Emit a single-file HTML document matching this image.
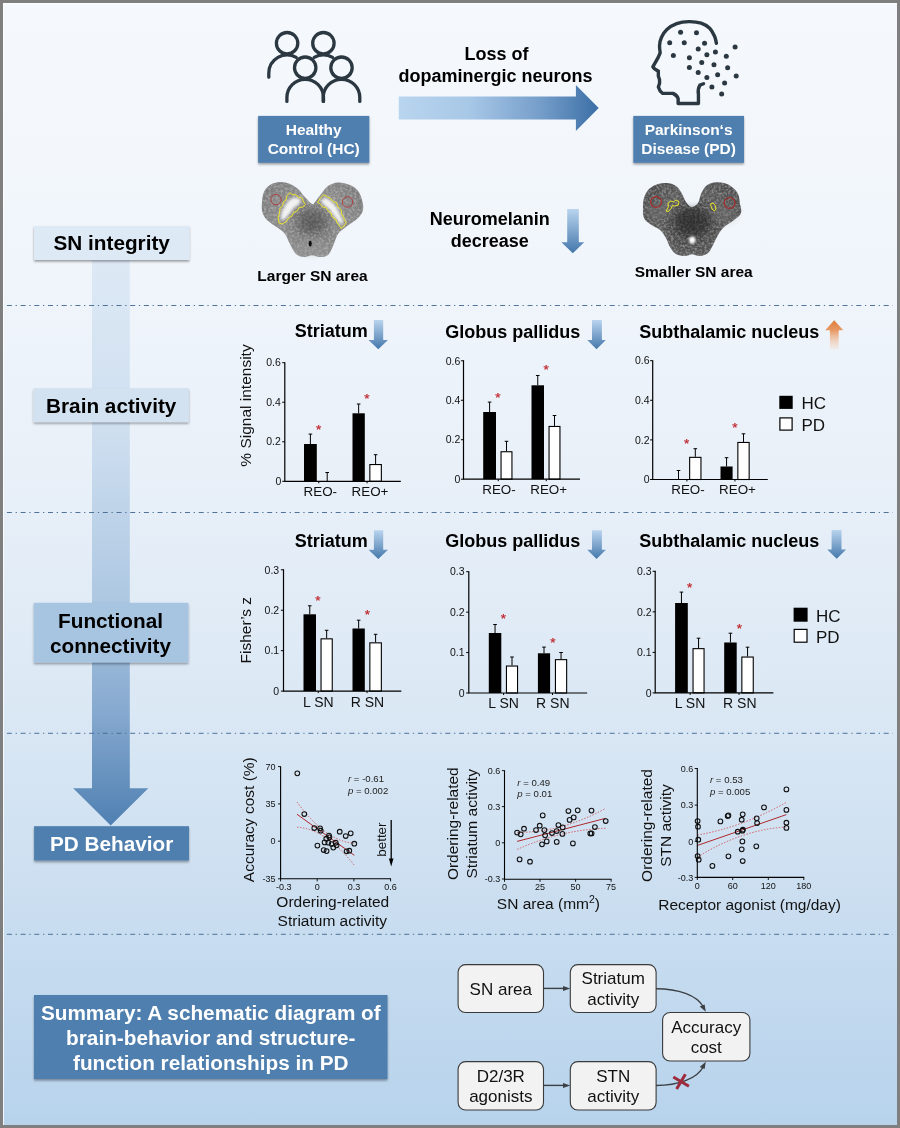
<!DOCTYPE html>
<html lang="en"><head><meta charset="utf-8"><title>Graphical abstract</title>
<style>
html,body{margin:0;padding:0;background:#7f7f7f;}
svg{display:block;will-change:transform;}
text{font-family:"Liberation Sans",Arial,Helvetica,sans-serif;}
</style></head><body>
<svg width="900" height="1128" viewBox="0 0 900 1128">
<defs>
<linearGradient id="gBg" x1="0" y1="0" x2="0" y2="1">
<stop offset="0" stop-color="#f5f9fd"/>
<stop offset="0.25" stop-color="#f0f5fb"/>
<stop offset="0.45" stop-color="#e7eff8"/>
<stop offset="0.65" stop-color="#d9e7f4"/>
<stop offset="0.82" stop-color="#c9ddf0"/>
<stop offset="1" stop-color="#b7d3ec"/>
</linearGradient>
<linearGradient id="gStem" gradientUnits="userSpaceOnUse" x1="0" y1="258" x2="0" y2="826">
<stop offset="0" stop-color="#dde9f5"/>
<stop offset="0.3" stop-color="#cfdff0"/>
<stop offset="0.6" stop-color="#aec8e2"/>
<stop offset="0.8" stop-color="#86a9cf"/>
<stop offset="1" stop-color="#4f80b2"/>
</linearGradient>
<linearGradient id="gArrowH" gradientUnits="userSpaceOnUse" x1="398" y1="0" x2="599" y2="0">
<stop offset="0" stop-color="#b9d5ef"/>
<stop offset="0.35" stop-color="#a8c8e7"/>
<stop offset="0.7" stop-color="#779fcb"/>
<stop offset="1" stop-color="#3b6fa6"/>
</linearGradient>
<filter id="sh" x="-0.1" y="-0.2" width="1.2" height="1.5"><feDropShadow dx="0" dy="1.6" stdDeviation="1.3" flood-color="#000" flood-opacity="0.38"/></filter>

<radialGradient id="gBrainHC" gradientUnits="userSpaceOnUse" cx="312" cy="225" r="58"><stop offset="0" stop-color="#6a6a6a"/><stop offset="0.55" stop-color="#8c8c8c"/><stop offset="1" stop-color="#7a7a7a"/></radialGradient>
<radialGradient id="gBrainPD" gradientUnits="userSpaceOnUse" cx="692" cy="225" r="58"><stop offset="0" stop-color="#3a3a3a"/><stop offset="0.6" stop-color="#5a5a5a"/><stop offset="1" stop-color="#4a4a4a"/></radialGradient>
<filter id="noiseHC" x="0" y="0" width="1" height="1"><feTurbulence type="fractalNoise" baseFrequency="0.42" numOctaves="3" seed="3" result="n"/><feColorMatrix in="n" type="matrix" values="0 0 0 0 0.5  0 0 0 0 0.5  0 0 0 0 0.5  2.6 0 0 0 -1.0"/><feComposite in2="SourceGraphic" operator="in"/></filter>
<filter id="noisePD" x="0" y="0" width="1" height="1"><feTurbulence type="fractalNoise" baseFrequency="0.42" numOctaves="3" seed="8" result="n"/><feColorMatrix in="n" type="matrix" values="0 0 0 0 0.6  0 0 0 0 0.6  0 0 0 0 0.6  2.6 0 0 0 -1.0"/><feComposite in2="SourceGraphic" operator="in"/></filter>
<filter id="blur06" x="-0.1" y="-0.1" width="1.2" height="1.2"><feGaussianBlur stdDeviation="0.5"/></filter>
<filter id="blur1" x="-0.3" y="-0.3" width="1.6" height="1.6"><feGaussianBlur stdDeviation="1"/></filter>
<filter id="blur15" x="-0.3" y="-0.3" width="1.6" height="1.6"><feGaussianBlur stdDeviation="1.6"/></filter>
<filter id="blur3" x="-0.5" y="-0.5" width="2" height="2"><feGaussianBlur stdDeviation="3.5"/></filter>
<linearGradient id="gDn1" gradientUnits="userSpaceOnUse" x1="0" y1="209.1" x2="0" y2="253.2"><stop offset="0" stop-color="#b9d4ee"/><stop offset="1" stop-color="#4477ab"/></linearGradient>
<linearGradient id="gDn2" gradientUnits="userSpaceOnUse" x1="0" y1="320" x2="0" y2="349.3"><stop offset="0" stop-color="#b9d4ee"/><stop offset="1" stop-color="#4477ab"/></linearGradient>
<linearGradient id="gDn3" gradientUnits="userSpaceOnUse" x1="0" y1="320" x2="0" y2="349.3"><stop offset="0" stop-color="#b9d4ee"/><stop offset="1" stop-color="#4477ab"/></linearGradient>
<linearGradient id="gUp" gradientUnits="userSpaceOnUse" x1="0" y1="320" x2="0" y2="350"><stop offset="0" stop-color="#dd7a3a"/><stop offset="0.35" stop-color="#e89a66"/><stop offset="1" stop-color="#f6d9c6" stop-opacity="0.25"/></linearGradient>
<linearGradient id="gDn4" gradientUnits="userSpaceOnUse" x1="0" y1="530.3" x2="0" y2="559.1"><stop offset="0" stop-color="#b9d4ee"/><stop offset="1" stop-color="#4477ab"/></linearGradient>
<linearGradient id="gDn5" gradientUnits="userSpaceOnUse" x1="0" y1="530.3" x2="0" y2="559.1"><stop offset="0" stop-color="#b9d4ee"/><stop offset="1" stop-color="#4477ab"/></linearGradient>
<linearGradient id="gDn6" gradientUnits="userSpaceOnUse" x1="0" y1="529.9" x2="0" y2="558.8"><stop offset="0" stop-color="#b9d4ee"/><stop offset="1" stop-color="#4477ab"/></linearGradient></defs>
<rect x="0" y="0" width="900" height="1128" fill="#7f7f7f"/>
<rect x="3" y="3" width="894" height="1122" fill="url(#gBg)"/>
<path d="M3.5,1125V3.5H897" fill="none" stroke="#fff" stroke-width="1" opacity="0.8"/>
<path d="M92,258H129.8V788.2H148.3L110.7,825.6L73.2,788.2H92Z" fill="url(#gStem)"/>
<path d="M6.9,305.5H892.7" stroke="#486c94" stroke-width="0.95" stroke-dasharray="5 3.7 1.3 3.7" fill="none"/>
<path d="M6.9,512.5H892.7" stroke="#486c94" stroke-width="0.95" stroke-dasharray="5 3.7 1.3 3.7" fill="none"/>
<path d="M6.9,733.3H892.7" stroke="#486c94" stroke-width="0.95" stroke-dasharray="5 3.7 1.3 3.7" fill="none"/>
<path d="M6.9,934.3H892.7" stroke="#486c94" stroke-width="0.95" stroke-dasharray="5 3.7 1.3 3.7" fill="none"/>
<rect x="34.1" y="225.9" width="155.2" height="34.1" fill="#dde9f5" filter="url(#sh)"/>
<text x="111.7" y="250.4" text-anchor="middle" font-size="20.75" font-weight="bold" fill="#000">SN integrity</text>
<rect x="33.6" y="388.3" width="155.2" height="33.8" fill="#d3e2f1" filter="url(#sh)"/>
<text x="111.2" y="412.8" text-anchor="middle" font-size="20.75" font-weight="bold" fill="#000">Brain activity</text>
<rect x="33.8" y="602.8" width="154.6" height="59.7" fill="#a7c4e1" filter="url(#sh)"/>
<text x="110.5" y="627.6" text-anchor="middle" font-size="20.75" font-weight="bold" fill="#000">Functional</text>
<text x="110.5" y="652.6" text-anchor="middle" font-size="20.75" font-weight="bold" fill="#000">connectivity</text>
<rect x="34.1" y="826.2" width="154.9" height="34.3" fill="#4f7fae" filter="url(#sh)"/>
<text x="111.6" y="850.9" text-anchor="middle" font-size="20.75" font-weight="bold" fill="#fff">PD Behavior</text>
<g fill="none" stroke="#2b3842" stroke-width="3.3" stroke-linecap="round" stroke-linejoin="round">
<circle cx="287.1" cy="43.2" r="10.7"/>
<circle cx="323.4" cy="43.2" r="10.7"/>
<circle cx="305.2" cy="67.7" r="10.7"/>
<circle cx="341.5" cy="67.7" r="10.7"/>
<path d="M286.9,101.4V97.6A18.3,18.3 0 0 1 323.5,97.6V101.4"/>
<path d="M323.2,101.4V97.6A18.3,18.3 0 0 1 359.8,97.6V101.4"/>
<path d="M268.8,77.2V73.2A18.3,18.3 0 0 1 296.2,57.4"/>
<path d="M314.2,57.4A18.3,18.3 0 0 1 332.6,57.4"/>
</g>
<rect x="258.1" y="115.9" width="111.2" height="46.9" fill="#4f7fae" filter="url(#sh)"/>
<text x="313.7" y="135.3" text-anchor="middle" font-size="15.5" font-weight="bold" fill="#fff">Healthy</text>
<text x="313.7" y="154" text-anchor="middle" font-size="15.5" font-weight="bold" fill="#fff">Control (HC)</text>
<path d="M716.41,43.25C716.1,42.09 715.69,38.77 714.57,36.28C713.45,33.8 711.92,30.52 709.68,28.34C707.44,26.16 704.59,24.32 701.12,23.2C697.66,22.08 692.97,21.53 688.9,21.61C684.82,21.7 680.34,22.37 676.67,23.69C673.01,25.02 669.44,27.26 666.89,29.56C664.35,31.86 662.62,34.86 661.39,37.51C660.17,40.15 659.76,42.91 659.56,45.45C659.36,48 660.07,51.56 660.17,52.79L658.34,57.07L652.84,66.85Q654.06,69.29 658.34,71.12L658.34,76.01L659.56,79.68L659.56,83.35L658.34,87.02Q659.56,91.3 662.62,93.37L673.01,93.37Q677.29,95.57 678.14,98.63L678.14,103.52L698.44,103.52L698.44,94.35Q697.46,89.46 699.9,85.18L703.57,83.72" fill="none" stroke="#2b3842" stroke-width="3.4" stroke-linecap="round" stroke-linejoin="round"/>
<circle cx="680.59" cy="32.25" r="2.5" fill="#2b3842"/>
<circle cx="696.48" cy="32.86" r="2.5" fill="#2b3842"/>
<circle cx="669.71" cy="42.76" r="2.5" fill="#2b3842"/>
<circle cx="684.25" cy="42.76" r="2.5" fill="#2b3842"/>
<circle cx="704.55" cy="43.25" r="2.5" fill="#2b3842"/>
<circle cx="735.11" cy="46.92" r="2.5" fill="#2b3842"/>
<circle cx="698.19" cy="49.12" r="2.5" fill="#2b3842"/>
<circle cx="715.43" cy="51.93" r="2.5" fill="#2b3842"/>
<circle cx="706.87" cy="54.87" r="2.5" fill="#2b3842"/>
<circle cx="673.37" cy="55.48" r="2.5" fill="#2b3842"/>
<circle cx="726.31" cy="56.21" r="2.5" fill="#2b3842"/>
<circle cx="689.39" cy="57.68" r="2.5" fill="#2b3842"/>
<circle cx="701.74" cy="62.57" r="2.5" fill="#2b3842"/>
<circle cx="713.96" cy="64.77" r="2.5" fill="#2b3842"/>
<circle cx="689.39" cy="67.46" r="2.5" fill="#2b3842"/>
<circle cx="727.65" cy="67.7" r="2.5" fill="#2b3842"/>
<circle cx="698.19" cy="72.59" r="2.5" fill="#2b3842"/>
<circle cx="717.63" cy="74.79" r="2.5" fill="#2b3842"/>
<circle cx="736.21" cy="76.01" r="2.5" fill="#2b3842"/>
<circle cx="706.87" cy="77.6" r="2.5" fill="#2b3842"/>
<circle cx="724.6" cy="82.98" r="2.5" fill="#2b3842"/>
<circle cx="711.88" cy="87.02" r="2.5" fill="#2b3842"/>
<circle cx="721.66" cy="93.99" r="2.5" fill="#2b3842"/>
<rect x="633.3" y="115.9" width="110.7" height="46.9" fill="#4f7fae" filter="url(#sh)"/>
<text x="688.6" y="135.3" text-anchor="middle" font-size="15.5" font-weight="bold" fill="#fff">Parkinson‘s</text>
<text x="688.6" y="154" text-anchor="middle" font-size="15.5" font-weight="bold" fill="#fff">Disease (PD)</text>
<path d="M398.8,96.4H575.9V84.9L598.7,108L575.9,131.1V119.6H398.8Z" fill="url(#gArrowH)"/>
<text x="496.5" y="59.8" text-anchor="middle" font-size="18" font-weight="bold" fill="#000">Loss of</text>
<text x="495.5" y="82" text-anchor="middle" font-size="18" font-weight="bold" fill="#000">dopaminergic neurons</text>
<text x="489.8" y="224.6" text-anchor="middle" font-size="18" font-weight="bold" fill="#000">Neuromelanin</text>
<text x="489.8" y="246.6" text-anchor="middle" font-size="18" font-weight="bold" fill="#000">decrease</text>
<path d="M567.2,209.1H578.8V242.3H584.2L572.8,253.2L561.4,242.3H567.2Z" fill="url(#gDn1)"/>
<text x="312.5" y="281" text-anchor="middle" font-size="15.5" font-weight="bold" fill="#000">Larger SN area</text>
<text x="693.7" y="277" text-anchor="middle" font-size="15.5" font-weight="bold" fill="#000">Smaller SN area</text>
<g filter="url(#blur06)">
<path d="M312,204C310.17,203 306.33,198.5 304,196C301.67,193.5 300.33,191 298,189C295.67,187 293,185.17 290,184C287,182.83 283.33,181.83 280,182C276.67,182.17 272.67,183.33 270,185C267.33,186.67 265.33,189.17 264,192C262.67,194.83 262.27,198.67 262,202C261.73,205.33 261.57,209 262.4,212C263.23,215 264.4,217.33 267,220C269.6,222.67 275,225.67 278,228C281,230.33 283,231.33 285,234C287,236.67 288.17,240.67 290,244C291.83,247.33 293.67,251.83 296,254C298.33,256.17 301.33,256.8 304,257C306.67,257.2 309.33,255.2 312,255.2C314.67,255.2 317.33,257.03 320,257C322.67,256.97 325.83,256.83 328,255C330.17,253.17 331.33,249.5 333,246C334.67,242.5 335.83,237.17 338,234C340.17,230.83 342.67,229.67 346,227C349.33,224.33 355.17,220.83 358,218C360.83,215.17 362.33,213 363,210C363.67,207 362.83,203.17 362,200C361.17,196.83 360,193.5 358,191C356,188.5 353.33,186.43 350,185C346.67,183.57 341.67,182.23 338,182.4C334.33,182.57 330.83,184.07 328,186C325.17,187.93 323.17,191.33 321,194C318.83,196.67 316.5,200.33 315,202C313.5,203.67 313.83,205 312,204Z" fill="url(#gBrainHC)"/>
<path d="M312,204C310.17,203 306.33,198.5 304,196C301.67,193.5 300.33,191 298,189C295.67,187 293,185.17 290,184C287,182.83 283.33,181.83 280,182C276.67,182.17 272.67,183.33 270,185C267.33,186.67 265.33,189.17 264,192C262.67,194.83 262.27,198.67 262,202C261.73,205.33 261.57,209 262.4,212C263.23,215 264.4,217.33 267,220C269.6,222.67 275,225.67 278,228C281,230.33 283,231.33 285,234C287,236.67 288.17,240.67 290,244C291.83,247.33 293.67,251.83 296,254C298.33,256.17 301.33,256.8 304,257C306.67,257.2 309.33,255.2 312,255.2C314.67,255.2 317.33,257.03 320,257C322.67,256.97 325.83,256.83 328,255C330.17,253.17 331.33,249.5 333,246C334.67,242.5 335.83,237.17 338,234C340.17,230.83 342.67,229.67 346,227C349.33,224.33 355.17,220.83 358,218C360.83,215.17 362.33,213 363,210C363.67,207 362.83,203.17 362,200C361.17,196.83 360,193.5 358,191C356,188.5 353.33,186.43 350,185C346.67,183.57 341.67,182.23 338,182.4C334.33,182.57 330.83,184.07 328,186C325.17,187.93 323.17,191.33 321,194C318.83,196.67 316.5,200.33 315,202C313.5,203.67 313.83,205 312,204Z" fill="#000" filter="url(#noiseHC)" opacity="0.6"/>
<ellipse cx="312" cy="221" rx="15" ry="12" fill="#3c3c3c" opacity="0.4" filter="url(#blur3)"/>
<ellipse cx="311" cy="246" rx="14" ry="8" fill="#9a9a9a" opacity="0.5" filter="url(#blur3)"/>
<path d="M281.2,220.4C280.43,219.67 280.87,215.9 281.4,213.6C281.93,211.3 283.07,208.87 284.4,206.6C285.73,204.33 287.53,201.5 289.4,200C291.27,198.5 293.77,197.67 295.6,197.6C297.43,197.53 299.73,198.6 300.4,199.6C301.07,200.6 300.6,202.27 299.6,203.6C298.6,204.93 295.93,206.07 294.4,207.6C292.87,209.13 291.8,211.07 290.4,212.8C289,214.53 287.53,216.73 286,218C284.47,219.27 281.97,221.13 281.2,220.4Z" fill="#f2f2f2" filter="url(#blur15)"/>
<path d="M321,200.4C321.33,199.2 324.17,197.73 326,198C327.83,198.27 330.17,200.33 332,202C333.83,203.67 335.6,205.83 337,208C338.4,210.17 339.37,212.83 340.4,215C341.43,217.17 343.07,219.43 343.2,221C343.33,222.57 342.2,224.57 341.2,224.4C340.2,224.23 338.57,221.57 337.2,220C335.83,218.43 334.37,216.8 333,215C331.63,213.2 330.5,210.83 329,209.2C327.5,207.57 325.33,206.67 324,205.2C322.67,203.73 320.67,201.6 321,200.4Z" fill="#f2f2f2" filter="url(#blur15)"/>
<ellipse cx="310.2" cy="243.6" rx="1.6" ry="2.8" fill="#111"/>
</g>
<path d="M279,223L278,217L279.6,213L280,208L282.4,206L283.6,201.6L286,200L287,195.6L290,192.6L292.4,195L295.6,194.4L298,197L302,198L303.6,202L305.4,204.4L303,207L299,207.6L297,211L293.6,212.6L292,216L288.4,218L287,221L282.4,224Z" fill="none" stroke="#ece52a" stroke-width="1" stroke-linejoin="round"/>
<path d="M317.6,202.4L320.4,198L324,194.6L327.6,197L330.6,198.4L333,201.6L336.4,202.6L338,207L341.2,209.6L341.6,214L343.6,217L344.4,220L346.4,222.4L344,226L341,228.4L339,225L337,223L335.6,219L332.4,217.4L331,213L328,211L326,207.6L322.4,207L320.4,204Z" fill="none" stroke="#ece52a" stroke-width="1" stroke-linejoin="round"/>
<circle cx="276" cy="199.6" r="5.2" fill="none" stroke="#b23a3a" stroke-width="0.9"/>
<circle cx="347.6" cy="202" r="5.2" fill="none" stroke="#b23a3a" stroke-width="0.9"/>
<g filter="url(#blur06)">
<path d="M691.6,207C689.6,206.83 687.77,204.5 686,202C684.23,199.5 682.67,194.67 681,192C679.33,189.33 678.17,187.5 676,186C673.83,184.5 671,183.33 668,183C665,182.67 661.17,183 658,184C654.83,185 651.33,186.67 649,189C646.67,191.33 645,194.83 644,198C643,201.17 643,204.67 643,208C643,211.33 642.83,215.33 644,218C645.17,220.67 647.33,222 650,224C652.67,226 657.33,227.67 660,230C662.67,232.33 664.33,235.17 666,238C667.67,240.83 668.33,244.33 670,247C671.67,249.67 673.5,252.5 676,254C678.5,255.5 682.33,255.97 685,256C687.67,256.03 689.5,254.2 692,254.2C694.5,254.2 697.33,256.2 700,256C702.67,255.8 705.83,254.83 708,253C710.17,251.17 711.33,248 713,245C714.67,242 716.17,238 718,235C719.83,232 721.33,229.5 724,227C726.67,224.5 731.17,222.33 734,220C736.83,217.67 740,215.67 741,213C742,210.33 740.5,207.17 740,204C739.5,200.83 739.33,196.83 738,194C736.67,191.17 734.33,188.83 732,187C729.67,185.17 727,183.77 724,183C721,182.23 717,181.9 714,182.4C711,182.9 708.17,184.07 706,186C703.83,187.93 702.33,191.17 701,194C699.67,196.83 699.57,200.83 698,203C696.43,205.17 693.6,207.17 691.6,207Z" fill="url(#gBrainPD)"/>
<path d="M691.6,207C689.6,206.83 687.77,204.5 686,202C684.23,199.5 682.67,194.67 681,192C679.33,189.33 678.17,187.5 676,186C673.83,184.5 671,183.33 668,183C665,182.67 661.17,183 658,184C654.83,185 651.33,186.67 649,189C646.67,191.33 645,194.83 644,198C643,201.17 643,204.67 643,208C643,211.33 642.83,215.33 644,218C645.17,220.67 647.33,222 650,224C652.67,226 657.33,227.67 660,230C662.67,232.33 664.33,235.17 666,238C667.67,240.83 668.33,244.33 670,247C671.67,249.67 673.5,252.5 676,254C678.5,255.5 682.33,255.97 685,256C687.67,256.03 689.5,254.2 692,254.2C694.5,254.2 697.33,256.2 700,256C702.67,255.8 705.83,254.83 708,253C710.17,251.17 711.33,248 713,245C714.67,242 716.17,238 718,235C719.83,232 721.33,229.5 724,227C726.67,224.5 731.17,222.33 734,220C736.83,217.67 740,215.67 741,213C742,210.33 740.5,207.17 740,204C739.5,200.83 739.33,196.83 738,194C736.67,191.17 734.33,188.83 732,187C729.67,185.17 727,183.77 724,183C721,182.23 717,181.9 714,182.4C711,182.9 708.17,184.07 706,186C703.83,187.93 702.33,191.17 701,194C699.67,196.83 699.57,200.83 698,203C696.43,205.17 693.6,207.17 691.6,207Z" fill="#000" filter="url(#noisePD)" opacity="0.45"/>
<ellipse cx="692" cy="222" rx="18" ry="14" fill="#262626" opacity="0.6" filter="url(#blur3)"/>
<ellipse cx="660" cy="210" rx="12" ry="9" fill="#6e6e6e" opacity="0.5" filter="url(#blur3)"/>
<ellipse cx="724" cy="212" rx="12" ry="9" fill="#6e6e6e" opacity="0.5" filter="url(#blur3)"/>
<ellipse cx="692.2" cy="240" rx="3.2" ry="3.6" fill="#fff" filter="url(#blur1)"/>
</g>
<path d="M666,211L668.4,207L668,203L671,201L673.6,202L676,200L679,201.6L678.4,205L675,206L672.4,205.6L671,208.4L668.4,211.6Z" fill="none" stroke="#ece52a" stroke-width="1" stroke-linejoin="round"/>
<path d="M710.6,204L713,203L715.4,205.6L716,209L714.4,211L712,209L711,206.4Z" fill="none" stroke="#ece52a" stroke-width="1" stroke-linejoin="round"/>
<circle cx="656" cy="202" r="5.4" fill="none" stroke="#a52a2a" stroke-width="1.2"/>
<circle cx="729.6" cy="203" r="5.4" fill="none" stroke="#a52a2a" stroke-width="1.2"/>
<text x="294.7" y="336.6" text-anchor="start" font-size="18" font-weight="bold" fill="#000">Striatum</text>
<path d="M373.9,320H383.2V340H388L378.25,349.3L368.5,340H373.9Z" fill="url(#gDn2)"/>
<text transform="translate(251.2,405.5) rotate(-90)" text-anchor="middle" font-size="15.5" fill="#111">% Signal intensity</text>
<rect x="304" y="444" width="12.8" height="37.3" fill="#000"/>
<path d="M310.4,444V434.1M308.6,434.1H312.2" stroke="#000" stroke-width="1" fill="none"/>
<path d="M327.2,481.3V472.5M325.4,472.5H329" stroke="#000" stroke-width="1" fill="none"/>
<rect x="352.5" y="413.3" width="12.3" height="68" fill="#000"/>
<path d="M358.65,413.3V404M356.85,404H360.45" stroke="#000" stroke-width="1" fill="none"/>
<rect x="369.85" y="464.55" width="11.5" height="16.75" fill="#fff" stroke="#000" stroke-width="1.1"/>
<path d="M375.6,464V454.7M373.8,454.7H377.4" stroke="#000" stroke-width="1" fill="none"/>
<path d="M284.8,362.2V481.3H400.8" stroke="#000" stroke-width="1.2" fill="none"/>
<path d="M282.2,362.7H284.8" stroke="#000" stroke-width="1"/>
<text x="280.8" y="366.4" text-anchor="end" font-size="10.5" fill="#111">0.6</text>
<path d="M282.2,402.23H284.8" stroke="#000" stroke-width="1"/>
<text x="280.8" y="405.93" text-anchor="end" font-size="10.5" fill="#111">0.4</text>
<path d="M282.2,441.77H284.8" stroke="#000" stroke-width="1"/>
<text x="280.8" y="445.47" text-anchor="end" font-size="10.5" fill="#111">0.2</text>
<path d="M282.2,481.3H284.8" stroke="#000" stroke-width="1"/>
<text x="281.3" y="485" text-anchor="end" font-size="10.5" fill="#111">0</text>
<text x="318.7" y="434.3" text-anchor="middle" font-size="13.5" fill="#c1272d" stroke="#c1272d" stroke-width="0.25">*</text>
<text x="366.9" y="402.8" text-anchor="middle" font-size="13.5" fill="#c1272d" stroke="#c1272d" stroke-width="0.25">*</text>
<path d="M318.8,481.3V483.3" stroke="#000" stroke-width="1"/>
<path d="M367.05,481.3V483.3" stroke="#000" stroke-width="1"/>
<text x="320.3" y="496.3" text-anchor="middle" font-size="13.4" fill="#111">REO-</text>
<text x="370" y="496.3" text-anchor="middle" font-size="13.4" fill="#111">REO+</text>
<text x="445.3" y="337.8" text-anchor="start" font-size="18" font-weight="bold" fill="#000">Globus pallidus</text>
<path d="M592,320H601.9V340H605.9L596.55,349.3L587.2,340H592Z" fill="url(#gDn3)"/>
<rect x="483.2" y="412" width="12.8" height="67.2" fill="#000"/>
<path d="M489.6,412V402.1M487.8,402.1H491.4" stroke="#000" stroke-width="1" fill="none"/>
<rect x="501.05" y="451.75" width="10.9" height="27.45" fill="#fff" stroke="#000" stroke-width="1.1"/>
<path d="M506.5,451.2V441.3M504.7,441.3H508.3" stroke="#000" stroke-width="1" fill="none"/>
<rect x="531.5" y="385.3" width="12.5" height="93.9" fill="#000"/>
<path d="M537.75,385.3V375.5M535.95,375.5H539.55" stroke="#000" stroke-width="1" fill="none"/>
<rect x="549.05" y="426.45" width="10.9" height="52.75" fill="#fff" stroke="#000" stroke-width="1.1"/>
<path d="M554.5,425.9V415.5M552.7,415.5H556.3" stroke="#000" stroke-width="1" fill="none"/>
<path d="M463.5,360.3V479.2H580" stroke="#000" stroke-width="1.2" fill="none"/>
<path d="M460.9,360.8H463.5" stroke="#000" stroke-width="1"/>
<text x="460.3" y="364.5" text-anchor="end" font-size="10.5" fill="#111">0.6</text>
<path d="M460.9,400.27H463.5" stroke="#000" stroke-width="1"/>
<text x="460.3" y="403.97" text-anchor="end" font-size="10.5" fill="#111">0.4</text>
<path d="M460.9,439.73H463.5" stroke="#000" stroke-width="1"/>
<text x="460.3" y="443.43" text-anchor="end" font-size="10.5" fill="#111">0.2</text>
<path d="M460.9,479.2H463.5" stroke="#000" stroke-width="1"/>
<text x="460.3" y="482.9" text-anchor="end" font-size="10.5" fill="#111">0</text>
<text x="497.9" y="401.5" text-anchor="middle" font-size="13.5" fill="#c1272d" stroke="#c1272d" stroke-width="0.25">*</text>
<text x="546.1" y="373.8" text-anchor="middle" font-size="13.5" fill="#c1272d" stroke="#c1272d" stroke-width="0.25">*</text>
<path d="M498.25,479.2V481.2" stroke="#000" stroke-width="1"/>
<path d="M546.25,479.2V481.2" stroke="#000" stroke-width="1"/>
<text x="499" y="494" text-anchor="middle" font-size="13.4" fill="#111">REO-</text>
<text x="548.7" y="494" text-anchor="middle" font-size="13.4" fill="#111">REO+</text>
<text x="639.3" y="337.8" text-anchor="start" font-size="18" font-weight="bold" fill="#000">Subthalamic nucleus</text>
<path d="M834.2,320.2L843.3,330.2H838.7V349.5H829.9V330.2H825.2Z" fill="url(#gUp)"/>
<path d="M678.5,479.5V470.5M676.7,470.5H680.3" stroke="#000" stroke-width="1" fill="none"/>
<rect x="689.65" y="457.35" width="11.3" height="22.15" fill="#fff" stroke="#000" stroke-width="1.1"/>
<path d="M695.3,456.8V448.7M693.5,448.7H697.1" stroke="#000" stroke-width="1" fill="none"/>
<rect x="720.5" y="466.5" width="12.1" height="13" fill="#000"/>
<path d="M726.55,466.5V457.7M724.75,457.7H728.35" stroke="#000" stroke-width="1" fill="none"/>
<rect x="737.85" y="442.45" width="11.3" height="37.05" fill="#fff" stroke="#000" stroke-width="1.1"/>
<path d="M743.5,441.9V433.8M741.7,433.8H745.3" stroke="#000" stroke-width="1" fill="none"/>
<path d="M652.7,360.2V479.5H767.8" stroke="#000" stroke-width="1.2" fill="none"/>
<path d="M650.1,360.7H652.7" stroke="#000" stroke-width="1"/>
<text x="649.5" y="364.4" text-anchor="end" font-size="10.5" fill="#111">0.6</text>
<path d="M650.1,400.3H652.7" stroke="#000" stroke-width="1"/>
<text x="649.5" y="404" text-anchor="end" font-size="10.5" fill="#111">0.4</text>
<path d="M650.1,439.9H652.7" stroke="#000" stroke-width="1"/>
<text x="649.5" y="443.6" text-anchor="end" font-size="10.5" fill="#111">0.2</text>
<path d="M650.1,479.5H652.7" stroke="#000" stroke-width="1"/>
<text x="649.5" y="483.2" text-anchor="end" font-size="10.5" fill="#111">0</text>
<text x="686.6" y="447.9" text-anchor="middle" font-size="13.5" fill="#c1272d" stroke="#c1272d" stroke-width="0.25">*</text>
<text x="734.8" y="432.3" text-anchor="middle" font-size="13.5" fill="#c1272d" stroke="#c1272d" stroke-width="0.25">*</text>
<path d="M686.9,479.5V481.5" stroke="#000" stroke-width="1"/>
<path d="M734.95,479.5V481.5" stroke="#000" stroke-width="1"/>
<text x="688" y="494.1" text-anchor="middle" font-size="13.4" fill="#111">REO-</text>
<text x="737.5" y="494.1" text-anchor="middle" font-size="13.4" fill="#111">REO+</text>
<rect x="779.3" y="395.8" width="13.4" height="13.1" fill="#000"/>
<rect x="779.9" y="417.9" width="12.2" height="12.2" fill="#fff" stroke="#000" stroke-width="1.2"/>
<text x="801.4" y="408.7" font-size="17" fill="#111">HC</text>
<text x="801.4" y="430.5" font-size="17" fill="#111">PD</text>
<text x="294.7" y="546.9" text-anchor="start" font-size="18" font-weight="bold" fill="#000">Striatum</text>
<path d="M373.9,530.3H383.2V549.8H388L378.25,559.1L368.5,549.8H373.9Z" fill="url(#gDn4)"/>
<text transform="translate(251.4,630.2) rotate(-90)" text-anchor="middle" font-size="15.5" fill="#111">Fisher’s z</text>
<rect x="303.5" y="614.3" width="12.5" height="76.8" fill="#000"/>
<path d="M309.75,614.3V605.8M307.95,605.8H311.55" stroke="#000" stroke-width="1" fill="none"/>
<rect x="321.05" y="638.85" width="11.2" height="52.25" fill="#fff" stroke="#000" stroke-width="1.1"/>
<path d="M326.65,638.3V630.3M324.85,630.3H328.45" stroke="#000" stroke-width="1" fill="none"/>
<rect x="352.5" y="628.5" width="12.3" height="62.6" fill="#000"/>
<path d="M358.65,628.5V620.2M356.85,620.2H360.45" stroke="#000" stroke-width="1" fill="none"/>
<rect x="369.85" y="642.85" width="11.5" height="48.25" fill="#fff" stroke="#000" stroke-width="1.1"/>
<path d="M375.6,642.3V634.3M373.8,634.3H377.4" stroke="#000" stroke-width="1" fill="none"/>
<path d="M283.5,569.3V691.1H401.3" stroke="#000" stroke-width="1.2" fill="none"/>
<path d="M280.9,569.8H283.5" stroke="#000" stroke-width="1"/>
<text x="279.2" y="573.5" text-anchor="end" font-size="10.5" fill="#111">0.3</text>
<path d="M280.9,610.23H283.5" stroke="#000" stroke-width="1"/>
<text x="279.2" y="613.93" text-anchor="end" font-size="10.5" fill="#111">0.2</text>
<path d="M280.9,650.67H283.5" stroke="#000" stroke-width="1"/>
<text x="279.2" y="654.37" text-anchor="end" font-size="10.5" fill="#111">0.1</text>
<path d="M280.9,691.1H283.5" stroke="#000" stroke-width="1"/>
<text x="279.2" y="694.8" text-anchor="end" font-size="10.5" fill="#111">0</text>
<text x="317.9" y="605.2" text-anchor="middle" font-size="13.5" fill="#c1272d" stroke="#c1272d" stroke-width="0.25">*</text>
<text x="367.5" y="619.3" text-anchor="middle" font-size="13.5" fill="#c1272d" stroke="#c1272d" stroke-width="0.25">*</text>
<path d="M318.25,691.1V693.1" stroke="#000" stroke-width="1"/>
<path d="M367.05,691.1V693.1" stroke="#000" stroke-width="1"/>
<text x="318.3" y="706.8" text-anchor="middle" font-size="14" fill="#111">L SN</text>
<text x="367.5" y="706.8" text-anchor="middle" font-size="14" fill="#111">R SN</text>
<text x="445.3" y="546.9" text-anchor="start" font-size="18" font-weight="bold" fill="#000">Globus pallidus</text>
<path d="M592,530.3H601.9V549.8H605.9L596.55,559.1L587.2,549.8H592Z" fill="url(#gDn5)"/>
<rect x="488.8" y="633" width="12.5" height="60" fill="#000"/>
<path d="M495.05,633V624.5M493.25,624.5H496.85" stroke="#000" stroke-width="1" fill="none"/>
<rect x="506.45" y="666.05" width="11.1" height="26.95" fill="#fff" stroke="#000" stroke-width="1.1"/>
<path d="M512,665.5V657M510.2,657H513.8" stroke="#000" stroke-width="1" fill="none"/>
<rect x="537.9" y="653.3" width="12.2" height="39.7" fill="#000"/>
<path d="M544,653.3V647.1M542.2,647.1H545.8" stroke="#000" stroke-width="1" fill="none"/>
<rect x="555.45" y="659.65" width="11.2" height="33.35" fill="#fff" stroke="#000" stroke-width="1.1"/>
<path d="M561.05,659.1V652.5M559.25,652.5H562.85" stroke="#000" stroke-width="1" fill="none"/>
<path d="M468.8,571.2V693H587.2" stroke="#000" stroke-width="1.2" fill="none"/>
<path d="M466.2,571.7H468.8" stroke="#000" stroke-width="1"/>
<text x="464.5" y="575.4" text-anchor="end" font-size="10.5" fill="#111">0.3</text>
<path d="M466.2,612.13H468.8" stroke="#000" stroke-width="1"/>
<text x="464.5" y="615.83" text-anchor="end" font-size="10.5" fill="#111">0.2</text>
<path d="M466.2,652.57H468.8" stroke="#000" stroke-width="1"/>
<text x="464.5" y="656.27" text-anchor="end" font-size="10.5" fill="#111">0.1</text>
<path d="M466.2,693H468.8" stroke="#000" stroke-width="1"/>
<text x="464.5" y="696.7" text-anchor="end" font-size="10.5" fill="#111">0</text>
<text x="503.5" y="623.3" text-anchor="middle" font-size="13.5" fill="#c1272d" stroke="#c1272d" stroke-width="0.25">*</text>
<text x="552.8" y="646.5" text-anchor="middle" font-size="13.5" fill="#c1272d" stroke="#c1272d" stroke-width="0.25">*</text>
<path d="M503.6,693V695" stroke="#000" stroke-width="1"/>
<path d="M552.5,693V695" stroke="#000" stroke-width="1"/>
<text x="503.6" y="708" text-anchor="middle" font-size="14" fill="#111">L SN</text>
<text x="552.8" y="708" text-anchor="middle" font-size="14" fill="#111">R SN</text>
<text x="639.3" y="547" text-anchor="start" font-size="18" font-weight="bold" fill="#000">Subthalamic nucleus</text>
<path d="M831.6,529.9H841.5V549.5H846.2L836.7,558.8L827.2,549.5H831.6Z" fill="url(#gDn6)"/>
<rect x="675.1" y="603" width="12.7" height="89.9" fill="#000"/>
<path d="M681.45,603V592.1M679.65,592.1H683.25" stroke="#000" stroke-width="1" fill="none"/>
<rect x="693.05" y="648.65" width="11" height="44.25" fill="#fff" stroke="#000" stroke-width="1.1"/>
<path d="M698.55,648.1V638.2M696.75,638.2H700.35" stroke="#000" stroke-width="1" fill="none"/>
<rect x="724.2" y="642.5" width="12.5" height="50.4" fill="#000"/>
<path d="M730.45,642.5V633.2M728.65,633.2H732.25" stroke="#000" stroke-width="1" fill="none"/>
<rect x="741.85" y="657.05" width="11.4" height="35.85" fill="#fff" stroke="#000" stroke-width="1.1"/>
<path d="M747.55,656.5V647.2M745.75,647.2H749.35" stroke="#000" stroke-width="1" fill="none"/>
<path d="M655.2,570.8V692.9H773.4" stroke="#000" stroke-width="1.2" fill="none"/>
<path d="M652.6,571.3H655.2" stroke="#000" stroke-width="1"/>
<text x="651.5" y="575" text-anchor="end" font-size="10.5" fill="#111">0.3</text>
<path d="M652.6,611.83H655.2" stroke="#000" stroke-width="1"/>
<text x="651.5" y="615.53" text-anchor="end" font-size="10.5" fill="#111">0.2</text>
<path d="M652.6,652.37H655.2" stroke="#000" stroke-width="1"/>
<text x="651.5" y="656.07" text-anchor="end" font-size="10.5" fill="#111">0.1</text>
<path d="M652.6,692.9H655.2" stroke="#000" stroke-width="1"/>
<text x="651.5" y="696.6" text-anchor="end" font-size="10.5" fill="#111">0</text>
<text x="689.7" y="591.6" text-anchor="middle" font-size="13.5" fill="#c1272d" stroke="#c1272d" stroke-width="0.25">*</text>
<text x="739.5" y="632.6" text-anchor="middle" font-size="13.5" fill="#c1272d" stroke="#c1272d" stroke-width="0.25">*</text>
<path d="M690.15,692.9V694.9" stroke="#000" stroke-width="1"/>
<path d="M739,692.9V694.9" stroke="#000" stroke-width="1"/>
<text x="690" y="708.2" text-anchor="middle" font-size="14" fill="#111">L SN</text>
<text x="739.8" y="708.2" text-anchor="middle" font-size="14" fill="#111">R SN</text>
<rect x="793.6" y="607.7" width="14" height="14" fill="#000"/>
<rect x="794.2" y="629.4" width="12.8" height="12.8" fill="#fff" stroke="#000" stroke-width="1.2"/>
<text x="816" y="621.5" font-size="17" fill="#111">HC</text>
<text x="816" y="642.6" font-size="17" fill="#111">PD</text>
<path d="M297,802Q325.75,841.35 354.3,843.3" fill="none" stroke="#d2595e" stroke-width="1" stroke-dasharray="1.4 1.6"/>
<path d="M297,827.1Q325.75,829 354.3,865.3" fill="none" stroke="#d2595e" stroke-width="1" stroke-dasharray="1.4 1.6"/>
<path d="M297,814.3L354.3,855.3" stroke="#b0282c" stroke-width="1"/>
<circle cx="297.3" cy="773.3" r="2.35" fill="none" stroke="#111" stroke-width="1.05"/>
<circle cx="304.3" cy="814" r="2.35" fill="none" stroke="#111" stroke-width="1.05"/>
<circle cx="314.3" cy="828" r="2.35" fill="none" stroke="#111" stroke-width="1.05"/>
<circle cx="320.1" cy="828.4" r="2.35" fill="none" stroke="#111" stroke-width="1.05"/>
<circle cx="320.7" cy="830.7" r="2.35" fill="none" stroke="#111" stroke-width="1.05"/>
<circle cx="317.4" cy="845.6" r="2.35" fill="none" stroke="#111" stroke-width="1.05"/>
<circle cx="323.7" cy="850" r="2.35" fill="none" stroke="#111" stroke-width="1.05"/>
<circle cx="326.6" cy="851.1" r="2.35" fill="none" stroke="#111" stroke-width="1.05"/>
<circle cx="324.6" cy="842.4" r="2.35" fill="none" stroke="#111" stroke-width="1.05"/>
<circle cx="328.3" cy="842.7" r="2.35" fill="none" stroke="#111" stroke-width="1.05"/>
<circle cx="326.3" cy="838.7" r="2.35" fill="none" stroke="#111" stroke-width="1.05"/>
<circle cx="329" cy="835.6" r="2.35" fill="none" stroke="#111" stroke-width="1.05"/>
<circle cx="329.4" cy="837.3" r="2.35" fill="none" stroke="#111" stroke-width="1.05"/>
<circle cx="333.3" cy="847.6" r="2.35" fill="none" stroke="#111" stroke-width="1.05"/>
<circle cx="335.7" cy="842.7" r="2.35" fill="none" stroke="#111" stroke-width="1.05"/>
<circle cx="336.6" cy="845.3" r="2.35" fill="none" stroke="#111" stroke-width="1.05"/>
<circle cx="339.7" cy="831.7" r="2.35" fill="none" stroke="#111" stroke-width="1.05"/>
<circle cx="345.7" cy="836" r="2.35" fill="none" stroke="#111" stroke-width="1.05"/>
<circle cx="350.7" cy="833.3" r="2.35" fill="none" stroke="#111" stroke-width="1.05"/>
<circle cx="354.3" cy="843.7" r="2.35" fill="none" stroke="#111" stroke-width="1.05"/>
<circle cx="346.6" cy="851.3" r="2.35" fill="none" stroke="#111" stroke-width="1.05"/>
<circle cx="349.3" cy="850.7" r="2.35" fill="none" stroke="#111" stroke-width="1.05"/>
<circle cx="331.7" cy="844" r="2.35" fill="none" stroke="#111" stroke-width="1.05"/>
<path d="M280.6,766.2V878.8H391" stroke="#000" stroke-width="1.1" fill="none"/>
<path d="M278,766.6H280.6" stroke="#000" stroke-width="0.9"/>
<text x="275.6" y="769.8" text-anchor="end" font-size="9" fill="#111">70</text>
<path d="M278,803.9H280.6" stroke="#000" stroke-width="0.9"/>
<text x="275.6" y="807.1" text-anchor="end" font-size="9" fill="#111">35</text>
<path d="M278,841.2H280.6" stroke="#000" stroke-width="0.9"/>
<text x="275.6" y="844.4" text-anchor="end" font-size="9" fill="#111">0</text>
<path d="M278,878.8H280.6" stroke="#000" stroke-width="0.9"/>
<text x="275.6" y="882" text-anchor="end" font-size="9" fill="#111">-35</text>
<path d="M280.6,878.8V881.4" stroke="#000" stroke-width="0.9"/>
<text x="283.8" y="890.3" text-anchor="middle" font-size="9" fill="#111">-0.3</text>
<path d="M317.2,878.8V881.4" stroke="#000" stroke-width="0.9"/>
<text x="317.2" y="890.3" text-anchor="middle" font-size="9" fill="#111">0</text>
<path d="M353.9,878.8V881.4" stroke="#000" stroke-width="0.9"/>
<text x="353.9" y="890.3" text-anchor="middle" font-size="9" fill="#111">0.3</text>
<path d="M390.6,878.8V881.4" stroke="#000" stroke-width="0.9"/>
<text x="390.6" y="890.3" text-anchor="middle" font-size="9" fill="#111">0.6</text>
<text x="348" y="781.8" font-size="9.6" fill="#222"><tspan font-style="italic">r</tspan> = -0.61</text>
<text x="348" y="794.2" font-size="9.6" fill="#222"><tspan font-style="italic">p</tspan> = 0.002</text>
<text transform="translate(253.6,819.7) rotate(-90)" text-anchor="middle" font-size="15.5" fill="#111">Accuracy cost (%)</text>
<text x="332.8" y="907.2" text-anchor="middle" font-size="15.5" fill="#111">Ordering-related</text>
<text x="332.3" y="926" text-anchor="middle" font-size="15.5" fill="#111">Striatum activity</text>
<text transform="translate(386.2,839.6) rotate(-90)" text-anchor="middle" font-size="13.4" fill="#111">better</text>
<path d="M391.2,820V861" stroke="#000" stroke-width="1.3"/><path d="M391.2,866.4L388.9,858.6H393.5Z" fill="#000"/>
<path d="M517.1,832.3Q561.2,832.9 605.7,808.3" fill="none" stroke="#d2595e" stroke-width="1" stroke-dasharray="1.4 1.6"/>
<path d="M517.1,849.4Q561.2,829.75 605.7,828.3" fill="none" stroke="#d2595e" stroke-width="1" stroke-dasharray="1.4 1.6"/>
<path d="M517.1,841.4L605.7,818.3" stroke="#b0282c" stroke-width="1"/>
<circle cx="517.1" cy="832.6" r="2.35" fill="none" stroke="#111" stroke-width="1.05"/>
<circle cx="520.7" cy="834.3" r="2.35" fill="none" stroke="#111" stroke-width="1.05"/>
<circle cx="524" cy="828.7" r="2.35" fill="none" stroke="#111" stroke-width="1.05"/>
<circle cx="519.6" cy="859.4" r="2.35" fill="none" stroke="#111" stroke-width="1.05"/>
<circle cx="530" cy="861.7" r="2.35" fill="none" stroke="#111" stroke-width="1.05"/>
<circle cx="536" cy="830.1" r="2.35" fill="none" stroke="#111" stroke-width="1.05"/>
<circle cx="539.7" cy="825.7" r="2.35" fill="none" stroke="#111" stroke-width="1.05"/>
<circle cx="542.7" cy="815.4" r="2.35" fill="none" stroke="#111" stroke-width="1.05"/>
<circle cx="544.4" cy="830.1" r="2.35" fill="none" stroke="#111" stroke-width="1.05"/>
<circle cx="545.1" cy="835.3" r="2.35" fill="none" stroke="#111" stroke-width="1.05"/>
<circle cx="542" cy="844.3" r="2.35" fill="none" stroke="#111" stroke-width="1.05"/>
<circle cx="546.7" cy="841.4" r="2.35" fill="none" stroke="#111" stroke-width="1.05"/>
<circle cx="552" cy="833" r="2.35" fill="none" stroke="#111" stroke-width="1.05"/>
<circle cx="556.7" cy="841.9" r="2.35" fill="none" stroke="#111" stroke-width="1.05"/>
<circle cx="556.7" cy="831" r="2.35" fill="none" stroke="#111" stroke-width="1.05"/>
<circle cx="558.4" cy="825" r="2.35" fill="none" stroke="#111" stroke-width="1.05"/>
<circle cx="562.7" cy="827.4" r="2.35" fill="none" stroke="#111" stroke-width="1.05"/>
<circle cx="562.4" cy="833.9" r="2.35" fill="none" stroke="#111" stroke-width="1.05"/>
<circle cx="568.4" cy="811" r="2.35" fill="none" stroke="#111" stroke-width="1.05"/>
<circle cx="569.6" cy="819.9" r="2.35" fill="none" stroke="#111" stroke-width="1.05"/>
<circle cx="573.7" cy="817.4" r="2.35" fill="none" stroke="#111" stroke-width="1.05"/>
<circle cx="572.9" cy="843.4" r="2.35" fill="none" stroke="#111" stroke-width="1.05"/>
<circle cx="577.7" cy="810.3" r="2.35" fill="none" stroke="#111" stroke-width="1.05"/>
<circle cx="591.5" cy="810.6" r="2.35" fill="none" stroke="#111" stroke-width="1.05"/>
<circle cx="590.3" cy="833.4" r="2.35" fill="none" stroke="#111" stroke-width="1.05"/>
<circle cx="591.6" cy="833.4" r="2.35" fill="none" stroke="#111" stroke-width="1.05"/>
<circle cx="594.9" cy="827" r="2.35" fill="none" stroke="#111" stroke-width="1.05"/>
<circle cx="605.7" cy="821" r="2.35" fill="none" stroke="#111" stroke-width="1.05"/>
<path d="M504.5,770.2V879.2H611.5" stroke="#000" stroke-width="1.1" fill="none"/>
<path d="M501.9,770.6H504.5" stroke="#000" stroke-width="0.9"/>
<text x="500.3" y="773.8" text-anchor="end" font-size="9" fill="#111">0.6</text>
<path d="M501.9,806.6H504.5" stroke="#000" stroke-width="0.9"/>
<text x="500.3" y="809.8" text-anchor="end" font-size="9" fill="#111">0.3</text>
<path d="M501.9,842.8H504.5" stroke="#000" stroke-width="0.9"/>
<text x="500.3" y="846" text-anchor="end" font-size="9" fill="#111">0</text>
<path d="M501.9,879H504.5" stroke="#000" stroke-width="0.9"/>
<text x="500.3" y="882.2" text-anchor="end" font-size="9" fill="#111">-0.3</text>
<path d="M504.5,879.2V881.8" stroke="#000" stroke-width="0.9"/>
<text x="504.5" y="890.4" text-anchor="middle" font-size="9" fill="#111">0</text>
<path d="M540,879.2V881.8" stroke="#000" stroke-width="0.9"/>
<text x="540" y="890.4" text-anchor="middle" font-size="9" fill="#111">25</text>
<path d="M575.6,879.2V881.8" stroke="#000" stroke-width="0.9"/>
<text x="575.6" y="890.4" text-anchor="middle" font-size="9" fill="#111">50</text>
<path d="M611.1,879.2V881.8" stroke="#000" stroke-width="0.9"/>
<text x="611.1" y="890.4" text-anchor="middle" font-size="9" fill="#111">75</text>
<text x="517.3" y="785.8" font-size="9.6" fill="#222"><tspan font-style="italic">r</tspan> = 0.49</text>
<text x="517.3" y="797.3" font-size="9.6" fill="#222"><tspan font-style="italic">p</tspan> = 0.01</text>
<text transform="translate(457.6,823.7) rotate(-90)" text-anchor="middle" font-size="15.5" fill="#111">Ordering-related</text>
<text transform="translate(476.8,823.8) rotate(-90)" text-anchor="middle" font-size="15.5" fill="#111">Striatum activity</text>
<text x="548.4" y="909.4" text-anchor="middle" font-size="15.5" fill="#111">SN area (mm<tspan font-size="10.5" dy="-6">2</tspan><tspan dy="6">)</tspan></text>
<path d="M697.6,835Q742,827.35 786.4,802.3" fill="none" stroke="#d2595e" stroke-width="1" stroke-dasharray="1.4 1.6"/>
<path d="M697.6,857Q742,829.4 786.4,827" fill="none" stroke="#d2595e" stroke-width="1" stroke-dasharray="1.4 1.6"/>
<path d="M697.6,845.4L786.4,814.6" stroke="#b0282c" stroke-width="1"/>
<circle cx="697.6" cy="821" r="2.35" fill="none" stroke="#111" stroke-width="1.05"/>
<circle cx="698" cy="826.7" r="2.35" fill="none" stroke="#111" stroke-width="1.05"/>
<circle cx="698.3" cy="839.7" r="2.35" fill="none" stroke="#111" stroke-width="1.05"/>
<circle cx="697.6" cy="856.1" r="2.35" fill="none" stroke="#111" stroke-width="1.05"/>
<circle cx="698.7" cy="859.7" r="2.35" fill="none" stroke="#111" stroke-width="1.05"/>
<circle cx="712.4" cy="865.9" r="2.35" fill="none" stroke="#111" stroke-width="1.05"/>
<circle cx="720.4" cy="821.4" r="2.35" fill="none" stroke="#111" stroke-width="1.05"/>
<circle cx="727.7" cy="816.1" r="2.35" fill="none" stroke="#111" stroke-width="1.05"/>
<circle cx="728.4" cy="815.4" r="2.35" fill="none" stroke="#111" stroke-width="1.05"/>
<circle cx="728.4" cy="856.3" r="2.35" fill="none" stroke="#111" stroke-width="1.05"/>
<circle cx="737.7" cy="831.7" r="2.35" fill="none" stroke="#111" stroke-width="1.05"/>
<circle cx="742.7" cy="814.3" r="2.35" fill="none" stroke="#111" stroke-width="1.05"/>
<circle cx="741.7" cy="819.7" r="2.35" fill="none" stroke="#111" stroke-width="1.05"/>
<circle cx="742.9" cy="829.7" r="2.35" fill="none" stroke="#111" stroke-width="1.05"/>
<circle cx="742.4" cy="830.7" r="2.35" fill="none" stroke="#111" stroke-width="1.05"/>
<circle cx="742.4" cy="841.4" r="2.35" fill="none" stroke="#111" stroke-width="1.05"/>
<circle cx="741.7" cy="849.3" r="2.35" fill="none" stroke="#111" stroke-width="1.05"/>
<circle cx="742.7" cy="861" r="2.35" fill="none" stroke="#111" stroke-width="1.05"/>
<circle cx="756.7" cy="818.3" r="2.35" fill="none" stroke="#111" stroke-width="1.05"/>
<circle cx="757.1" cy="823" r="2.35" fill="none" stroke="#111" stroke-width="1.05"/>
<circle cx="756.3" cy="846.3" r="2.35" fill="none" stroke="#111" stroke-width="1.05"/>
<circle cx="764" cy="807.4" r="2.35" fill="none" stroke="#111" stroke-width="1.05"/>
<circle cx="786.4" cy="789.4" r="2.35" fill="none" stroke="#111" stroke-width="1.05"/>
<circle cx="786.4" cy="809.9" r="2.35" fill="none" stroke="#111" stroke-width="1.05"/>
<circle cx="786.4" cy="822.7" r="2.35" fill="none" stroke="#111" stroke-width="1.05"/>
<circle cx="786.4" cy="827.9" r="2.35" fill="none" stroke="#111" stroke-width="1.05"/>
<path d="M697.3,768.1V877.4H804.2" stroke="#000" stroke-width="1.1" fill="none"/>
<path d="M694.7,768.5H697.3" stroke="#000" stroke-width="0.9"/>
<text x="693.2" y="771.7" text-anchor="end" font-size="9" fill="#111">0.6</text>
<path d="M694.7,805.1H697.3" stroke="#000" stroke-width="0.9"/>
<text x="693.2" y="808.3" text-anchor="end" font-size="9" fill="#111">0.3</text>
<path d="M694.7,841.3H697.3" stroke="#000" stroke-width="0.9"/>
<text x="693.2" y="844.5" text-anchor="end" font-size="9" fill="#111">0</text>
<path d="M694.7,877.4H697.3" stroke="#000" stroke-width="0.9"/>
<text x="693.2" y="880.6" text-anchor="end" font-size="9" fill="#111">-0.3</text>
<path d="M697.3,877.4V880" stroke="#000" stroke-width="0.9"/>
<text x="697.3" y="888.6" text-anchor="middle" font-size="9" fill="#111">0</text>
<path d="M732.7,877.4V880" stroke="#000" stroke-width="0.9"/>
<text x="732.7" y="888.6" text-anchor="middle" font-size="9" fill="#111">60</text>
<path d="M768.3,877.4V880" stroke="#000" stroke-width="0.9"/>
<text x="768.3" y="888.6" text-anchor="middle" font-size="9" fill="#111">120</text>
<path d="M803.8,877.4V880" stroke="#000" stroke-width="0.9"/>
<text x="803.8" y="888.6" text-anchor="middle" font-size="9" fill="#111">180</text>
<text x="710" y="783.1" font-size="9.6" fill="#222"><tspan font-style="italic">r</tspan> = 0.53</text>
<text x="710" y="794.5" font-size="9.6" fill="#222"><tspan font-style="italic">p</tspan> = 0.005</text>
<text transform="translate(651.5,825.5) rotate(-90)" text-anchor="middle" font-size="15.5" fill="#111">Ordering-related</text>
<text transform="translate(670.5,825.5) rotate(-90)" text-anchor="middle" font-size="15.5" fill="#111">STN activity</text>
<text x="749.6" y="910" text-anchor="middle" font-size="15.5" fill="#111">Receptor agonist (mg/day)</text>
<rect x="34" y="995" width="353.5" height="84" fill="#4f7fae" filter="url(#sh)"/>
<text x="210.8" y="1019.8" text-anchor="middle" font-size="20.75" font-weight="bold" fill="#fff">Summary: A schematic diagram of</text>
<text x="210.8" y="1044.8" text-anchor="middle" font-size="20.75" font-weight="bold" fill="#fff">brain-behavior and structure-</text>
<text x="210.8" y="1069.8" text-anchor="middle" font-size="20.75" font-weight="bold" fill="#fff">function relationships in PD</text>
<path d="M543.5,988.4H564" stroke="#3c4043" stroke-width="1.4" fill="none"/><path d="M570.3,988.4L563,985.9V990.9Z" fill="#3c4043"/>
<path d="M543.5,1085.4H564" stroke="#3c4043" stroke-width="1.4" fill="none"/><path d="M570.3,1085.4L563,1082.9V1087.9Z" fill="#3c4043"/>
<path d="M656,988.7C678,988.7 697,995 703.5,1007" stroke="#3c4043" stroke-width="1.4" fill="none"/>
<path d="M705.8,1011.8L699.7,1006.6L704.6,1004.5Z" fill="#3c4043"/>
<path d="M656,1085.5C678,1085.5 697,1079 703.5,1066.5" stroke="#3c4043" stroke-width="1.4" fill="none"/>
<path d="M705.8,1061.8L699.7,1067L704.6,1069.1Z" fill="#3c4043"/>
<rect x="458.1" y="964.6" width="85.4" height="47.9" rx="7.5" ry="7.5" fill="#f2f2f2" stroke="#3a3a3a" stroke-width="1.1"/>
<text x="500.8" y="994.65" text-anchor="middle" font-size="17" fill="#111">SN area</text>
<rect x="570.3" y="964.6" width="85.8" height="47.9" rx="7.5" ry="7.5" fill="#f2f2f2" stroke="#3a3a3a" stroke-width="1.1"/>
<text x="613.2" y="984.35" text-anchor="middle" font-size="17" fill="#111">Striatum</text>
<text x="613.2" y="1004.95" text-anchor="middle" font-size="17" fill="#111">activity</text>
<rect x="662.6" y="1012.5" width="87.3" height="48.5" rx="7.5" ry="7.5" fill="#f2f2f2" stroke="#3a3a3a" stroke-width="1.1"/>
<text x="706.25" y="1032.55" text-anchor="middle" font-size="17" fill="#111">Accuracy</text>
<text x="706.25" y="1053.15" text-anchor="middle" font-size="17" fill="#111">cost</text>
<rect x="458.1" y="1061.6" width="85.4" height="48.4" rx="7.5" ry="7.5" fill="#f2f2f2" stroke="#3a3a3a" stroke-width="1.1"/>
<text x="500.8" y="1081.6" text-anchor="middle" font-size="17" fill="#111">D2/3R</text>
<text x="500.8" y="1102.2" text-anchor="middle" font-size="17" fill="#111">agonists</text>
<rect x="570.3" y="1061.6" width="85.8" height="48.4" rx="7.5" ry="7.5" fill="#f2f2f2" stroke="#3a3a3a" stroke-width="1.1"/>
<text x="613.2" y="1081.6" text-anchor="middle" font-size="17" fill="#111">STN</text>
<text x="613.2" y="1102.2" text-anchor="middle" font-size="17" fill="#111">activity</text>
<path d="M673.3,1077L688.9,1086.2M685.4,1074.2L676.6,1089.1" stroke="#9e2a3c" stroke-width="3" fill="none"/>
</svg>
</body></html>
